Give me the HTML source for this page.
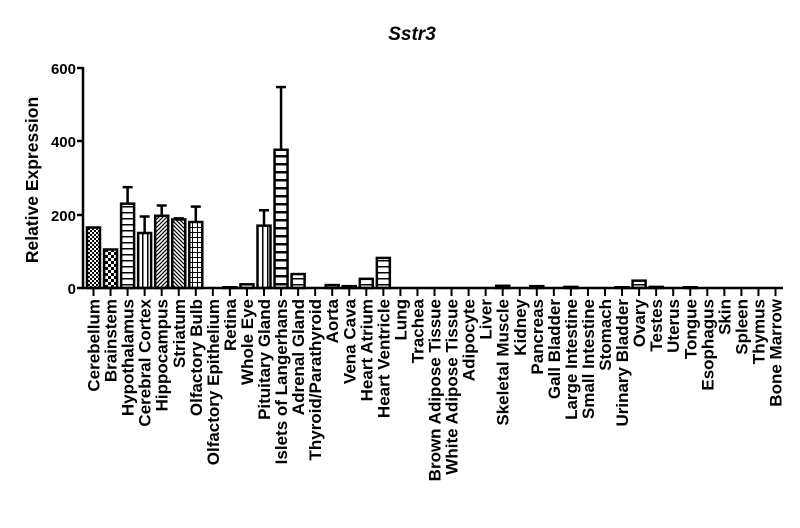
<!DOCTYPE html>
<html><head><meta charset="utf-8"><style>body{margin:0;background:#fff}svg{display:block}text{font-family:"Liberation Sans",Arial,sans-serif;font-weight:bold;fill:#000}</style></head>
<body>
<svg width="800" height="528" viewBox="0 0 800 528" xmlns="http://www.w3.org/2000/svg">
<defs>
<pattern id="chk" width="4" height="4" patternUnits="userSpaceOnUse"><rect width="4" height="4" fill="#fff"/><rect width="2" height="2" fill="#000"/><rect x="2" y="2" width="2" height="2" fill="#000"/></pattern>
<pattern id="chk2" width="6" height="6" patternUnits="userSpaceOnUse"><rect width="6" height="6" fill="#fff"/><rect width="3" height="3" fill="#000"/><rect x="3" y="3" width="3" height="3" fill="#000"/></pattern>
<pattern id="hor" width="6" height="6" patternUnits="userSpaceOnUse"><rect width="6" height="6" fill="#fff"/><rect y="2" width="6" height="1.5" fill="#000"/></pattern>
<pattern id="hor2" width="6" height="8" patternUnits="userSpaceOnUse"><rect width="6" height="8" fill="#fff"/><rect y="3" width="6" height="2.5" fill="#000"/></pattern>
<pattern id="ver" width="5" height="5" patternUnits="userSpaceOnUse"><rect width="5" height="5" fill="#fff"/><rect x="2" width="1.5" height="5" fill="#000"/></pattern>
<pattern id="d1" width="4" height="4" patternUnits="userSpaceOnUse"><rect width="4" height="4" fill="#fff"/><path d="M0 4L4 0M-1 1L1 -1M3 5L5 3" stroke="#000" stroke-width="1.2"/></pattern>
<pattern id="d2" width="4" height="4" patternUnits="userSpaceOnUse"><rect width="4" height="4" fill="#fff"/><path d="M0 0L4 4M-1 3L1 5M3 -1L5 1" stroke="#000" stroke-width="1.2"/></pattern>
<pattern id="grid" width="5" height="5" patternUnits="userSpaceOnUse"><rect width="5" height="5" fill="#fff"/><rect x="2" width="1" height="5" fill="#000"/><rect y="2" width="5" height="1" fill="#000"/></pattern>
</defs>
<text x="412" y="40" font-size="19" font-style="italic" text-anchor="middle">Sstr3</text>
<text transform="translate(38,180) rotate(-90)" font-size="17.5" text-anchor="middle">Relative Expression</text>
<g font-size="15" text-anchor="end">
<text x="76" y="74">600</text><text x="76" y="147">400</text><text x="76" y="221">200</text><text x="76" y="294">0</text>
</g>
<g stroke="#000" stroke-width="2.5">
<line x1="83" y1="67" x2="83" y2="289"/>
<line x1="77" y1="68" x2="83" y2="68"/><line x1="77" y1="141" x2="83" y2="141"/><line x1="77" y1="215" x2="83" y2="215"/><line x1="77" y1="288" x2="83" y2="288"/>
</g>
<g id="bars" stroke="#000" stroke-width="2.5"></g>
<line x1="82" y1="288" x2="783" y2="288" stroke="#000" stroke-width="2.5"/>
<g id="ticks" stroke="#000" stroke-width="2"></g>
<g id="labels" font-size="17" text-anchor="end"></g>
<script>
var names=["Cerebellum","Brainstem","Hypothalamus","Cerebral Cortex","Hippocampus","Striatum","Olfactory Bulb","Olfactory Epithelium","Retina","Whole Eye","Pituitary Gland","Islets of Langerhans","Adrenal Gland","Thyroid/Parathyroid","Aorta","Vena Cava","Heart Atrium","Heart Ventricle","Lung","Trachea","Brown Adipose Tissue","White Adipose Tissue","Adipocyte","Liver","Skeletal Muscle","Kidney","Pancreas","Gall Bladder","Large Intestine","Small Intestine","Stomach","Urinary Bladder","Ovary","Testes","Uterus","Tongue","Esophagus","Skin","Spleen","Thymus","Bone Marrow"];
var vals=[165,105,230,150,197,187,180,0,2,10,170,377,38,0,8,5,25,82,0,0,0,0,0,0,6,0,5,0,3,0,0,2,20,3,0,2,0,0,0,0,0];
var errs=[0,0,275,195,225,190,222,0,0,0,212,548,0,0,0,0,0,0,0,0,0,0,0,0,0,0,0,0,0,0,0,0,0,0,0,0,0,0,0,0,0];
var fills=["chk","chk2","hor","ver","d1","d2","grid","hor","hor","hor","ver","hor2","hor","hor","hor","hor","hor","hor"];
var ns="http://www.w3.org/2000/svg",B=document.getElementById("bars"),T=document.getElementById("ticks"),L=document.getElementById("labels");
function y(v){return 288-v*220/600;}
function el(t,a,p){var e=document.createElementNS(ns,t);for(var k in a)e.setAttribute(k,a[k]);p.appendChild(e);return e;}
for(var i=0;i<41;i++){var cx=93.5+i*17.05;
 if(errs[i]){el("line",{x1:cx,y1:y(errs[i]),x2:cx,y2:y(vals[i])},B);el("line",{x1:cx-5,y1:y(errs[i]),x2:cx+5,y2:y(errs[i])},B);}
 if(vals[i]>0){el("rect",{x:cx-6.5,y:y(vals[i]),width:13,height:288-y(vals[i]),fill:"url(#"+(fills[i]||"hor")+")"},B);}
 el("line",{x1:cx,y1:288,x2:cx,y2:296},T);
 var t=el("text",{transform:"translate("+(cx+6)+",299) rotate(-90)"},L);t.textContent=names[i];}
</script>
</svg>
</body></html>
